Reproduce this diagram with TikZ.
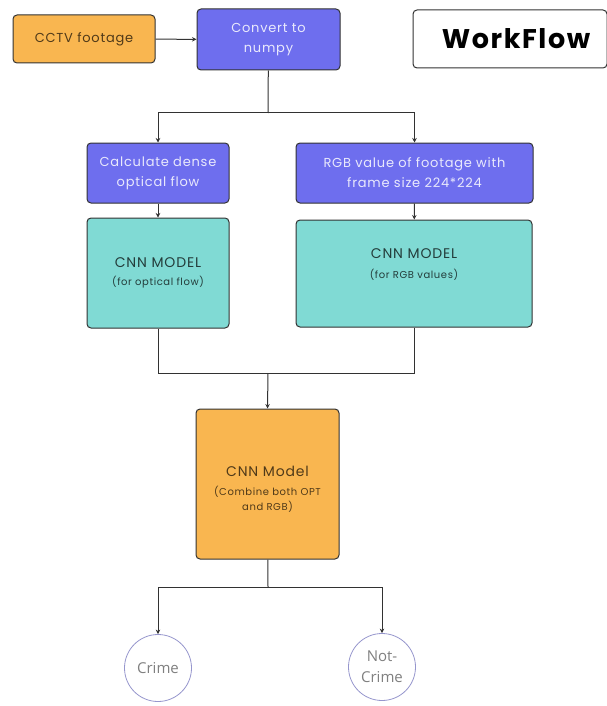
\documentclass[tikz,border=0pt]{standalone}
\usepackage{fontspec}
\setmainfont{Poppins}
\newfontfamily\boxfont[LetterSpace=6]{Poppins}
\newfontfamily\circfont{Open Sans}
\usetikzlibrary{positioning,arrows.meta}
\definecolor{flowblue}{RGB}{110,110,238}
\definecolor{flowteal}{RGB}{128,218,212}
\definecolor{floworange}{RGB}{249,182,80}
\definecolor{flowline}{RGB}{50,50,50}
\definecolor{circline}{RGB}{150,150,205}
\tikzset{
  box/.style={draw=flowline, line width=1pt, rounded corners=4pt, align=center, inner sep=2pt},
  bluebox/.style={box, fill=flowblue, text=white!85!flowblue, font=\boxfont\fontsize{13}{20}\selectfont},
  tealbox/.style={box, fill=flowteal, text=black!72!flowteal, font=\boxfont\fontsize{10}{15}\selectfont},
  orangebox/.style={box, fill=floworange, text=black!68!floworange, font=\boxfont\fontsize{10}{15}\selectfont},
  result/.style={circle, draw=circline, line width=0.8pt, fill=white, text=black!50, align=center,
    font=\circfont\fontsize{15}{21}\selectfont, minimum size=67pt, inner sep=0pt},
  conn/.style={draw=flowline, line width=1pt},
  arr/.style={conn, -{Stealth[length=4.5pt,width=4.5pt]}}
}
\newcommand{\bigline}[1]{{\fontsize{14}{18}\selectfont #1}}
\begin{document}
\begin{tikzpicture}[x=1pt,y=-1pt]
\useasboundingbox (0,0) rectangle (606,706);
% top row
\node (cctv) at (84,39) [orangebox, minimum width=142pt, minimum height=48pt,
  font=\boxfont\fontsize{13}{20}\selectfont] {CCTV footage};
\node (convert) at (268.5,39.5) [bluebox, minimum width=143pt, minimum height=61pt] {Convert to\\numpy};
\node (title) at (510,39) [draw=flowline, line width=1pt, rounded corners=4pt, minimum width=194pt, minimum height=58pt,
  font=\boxfont\bfseries\fontsize{27}{30}\selectfont] {\hspace*{12pt}WorkFlow};
%
% second row
\node (optical) at (158,173) [bluebox, minimum width=142pt, minimum height=60pt] {Calculate dense\\optical flow};
\node (rgb) at (414.5,173) [bluebox, minimum width=237pt, minimum height=60pt] {RGB value of footage with\\frame size 224*224};
%
% cnn models
\node (cnnopt) at (158,273) [tealbox, minimum width=142pt, minimum height=110pt]
  {\bigline{CNN MODEL}\\[3pt](for optical flow)};
\node (cnnrgb) at (414,273.5) [tealbox, minimum width=236pt, minimum height=107pt]
  {\bigline{CNN MODEL}\\[5pt](for RGB values)\\[5pt]};
\node (combine) at (267.5,484) [orangebox, minimum width=143pt, minimum height=150pt]
  {\mbox{}\\[5pt]\bigline{CNN Model}\\[4pt](Combine both OPT\\and RGB)};
%
% outputs
\node (crime) at (158,668) [result] {Crime};
\node (notcrime) at (382,667) [result] {Not-\\Crime};
%
\coordinate (split) at (268,113);
\coordinate (merge) at (268,373);
\coordinate (fork) at (268,587);
%
\draw[arr] (cctv) -- (convert);
\draw[conn] (convert) -- (split);
\draw[arr] (split) -| (optical.north);
\draw[arr] (split) -| (rgb.north);
\draw[arr] (optical) -- (cnnopt);
\draw[arr] (rgb) -- (cnnrgb);
%
\draw[conn] (cnnopt.south) |- (merge);
\draw[conn] (cnnrgb.south) |- (merge);
\draw[arr] (merge) -- (combine.north);
%
\draw[conn] (combine) -- (fork);
\draw[arr] (fork) -| (crime.north);
\draw[arr] (fork) -| (notcrime.north);
\end{tikzpicture}
\end{document}
